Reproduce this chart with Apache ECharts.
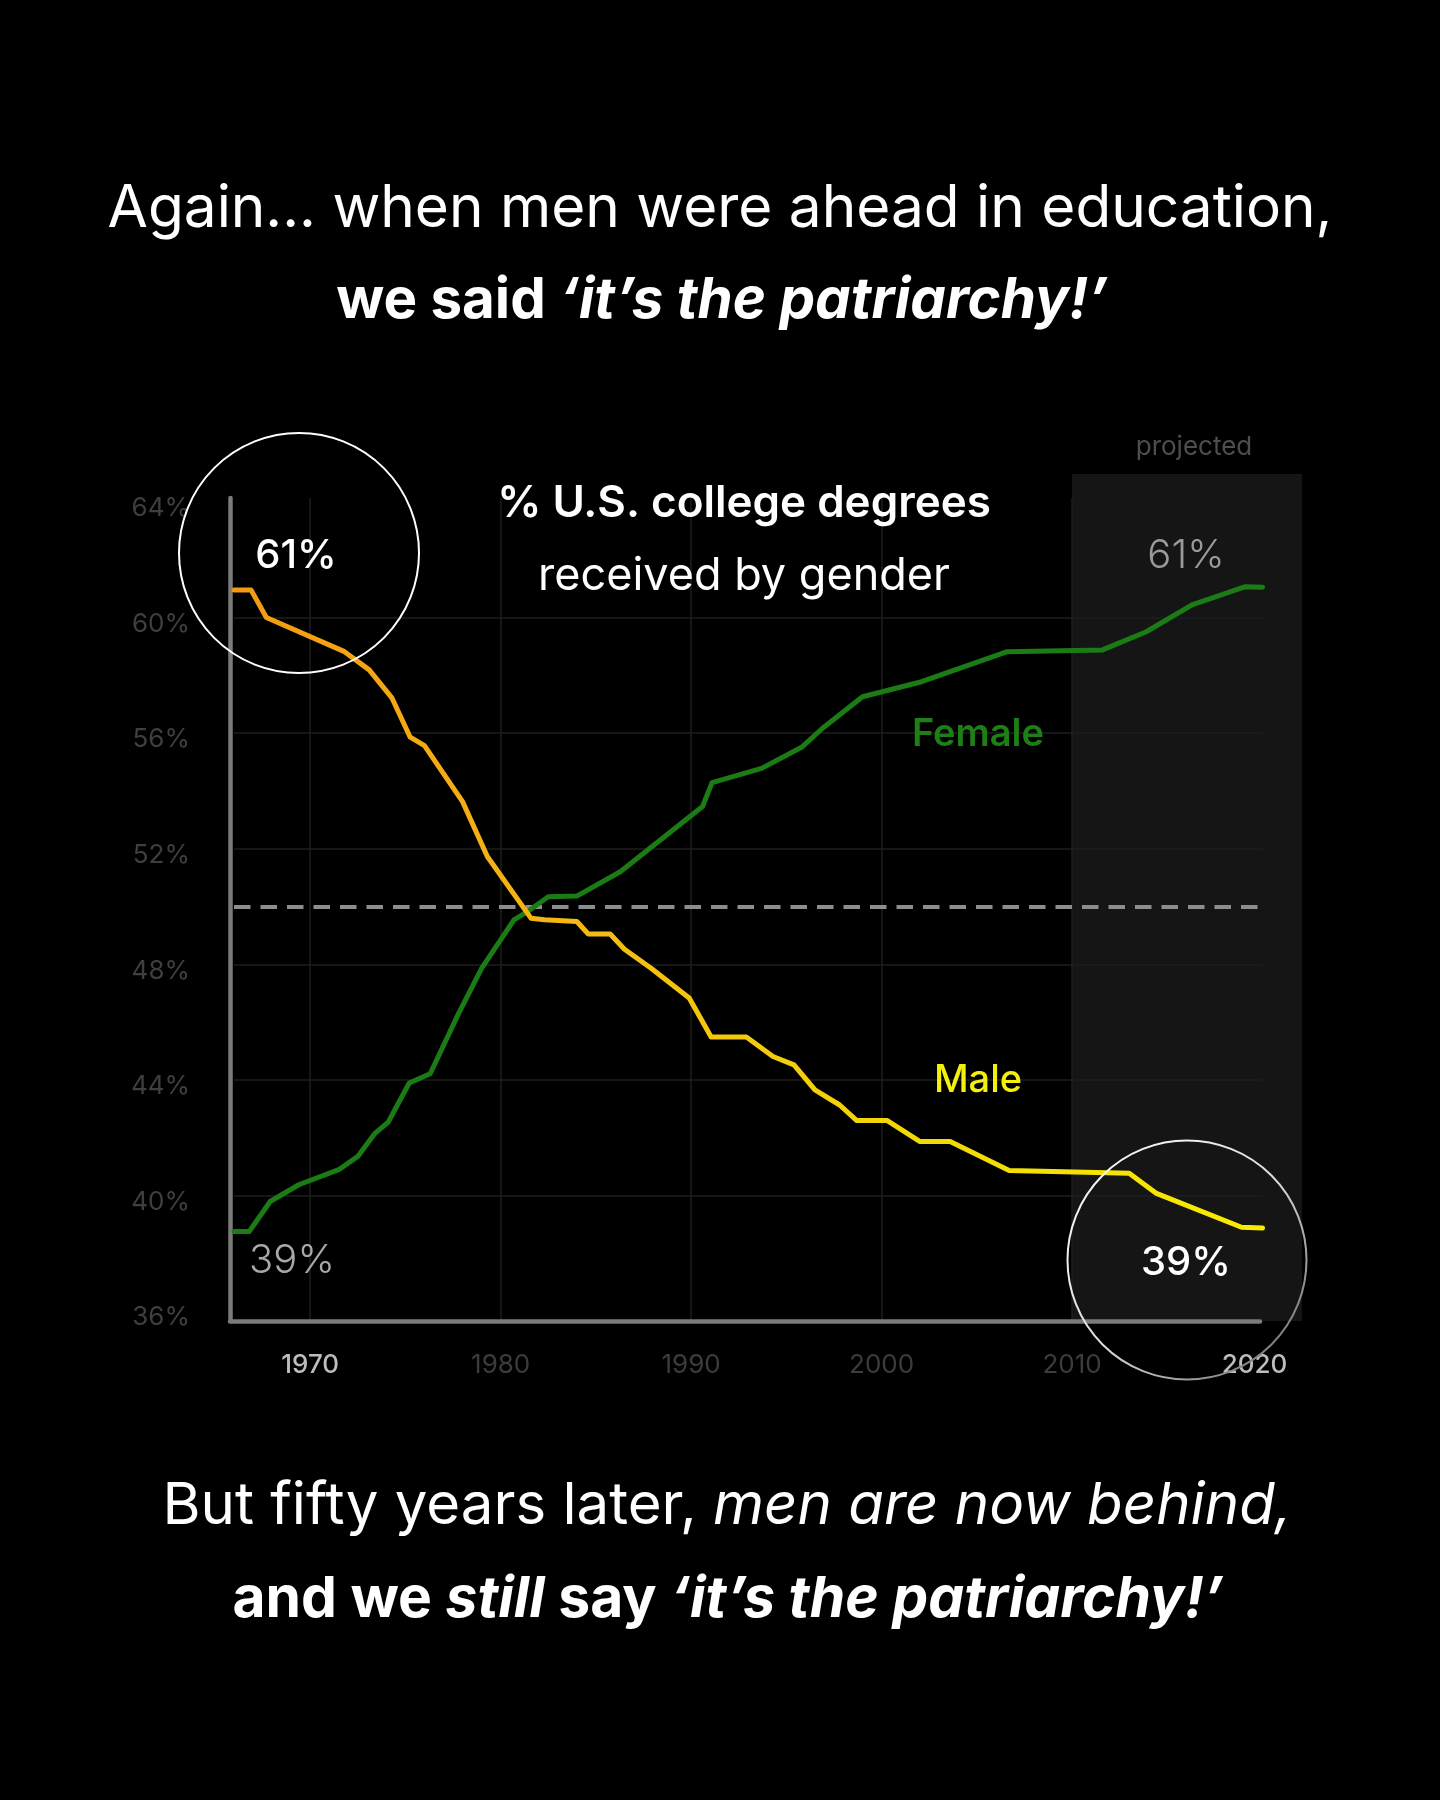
<!DOCTYPE html>
<html>
<head>
<meta charset="utf-8">
<script src="https://cdn.jsdelivr.net/npm/echarts@6/dist/echarts.min.js"></script>
<style>
html,body{margin:0;padding:0;background:#000;}
#chart{width:1440px;height:1800px;}
</style>
</head>
<body>
<div id="chart"></div>
<script>
// ---- data (share of U.S. college degrees, %) ----
const femaleYears = [1966, 1966.8, 1967.9, 1969.4, 1971.5, 1972.5, 1973.4, 1974.1, 1975.2, 1976.3, 1977.8, 1979.0, 1980.7, 1981.4, 1982.5, 1984.0, 1986.3, 1990.6, 1991.1, 1993.7, 1995.8, 1996.9, 1999.0, 2002.1, 2006.6, 2011.6, 2013.9, 2016.3, 2019.1, 2020];
const femaleShare = [38.75, 38.75, 39.79, 40.37, 40.89, 41.35, 42.15, 42.54, 43.89, 44.21, 46.31, 47.86, 49.54, 49.82, 50.34, 50.36, 51.21, 53.46, 54.29, 54.78, 55.51, 56.17, 57.26, 57.78, 58.82, 58.88, 59.51, 60.44, 61.07, 61.05];
const maleYears = [1966, 1966.9, 1967.7, 1971.8, 1973.1, 1974.3, 1975.25, 1976.0, 1978.0, 1979.3, 1981.6, 1982.3, 1984.0, 1984.6, 1985.75, 1986.5, 1987.9, 1989.9, 1991.05, 1992.9, 1994.3, 1995.4, 1996.5, 1997.8, 1998.7, 2000.3, 2002.0, 2003.6, 2006.7, 2013.0, 2014.4, 2018.9, 2020];
const maleShare = [60.95, 60.95, 60.0, 58.82, 58.19, 57.21, 55.86, 55.57, 53.63, 51.73, 49.59, 49.54, 49.48, 49.05, 49.05, 48.52, 47.86, 46.83, 45.48, 45.48, 44.81, 44.52, 43.65, 43.13, 42.59, 42.59, 41.87, 41.87, 40.86, 40.77, 40.08, 38.90, 38.87];
const parityLine = 50;
const brightYears = [1970, 2020];
const yearRange = [1966, 2020];
const shareRange = [36, 64];
const shareStep = 4;

const headline1 = 'Again... when men were ahead in education,';
const headline2a = 'we said ';
const headline2b = '‘it’s the patriarchy!’';
const footer1a = 'But fifty years later, ';
const footer1b = 'men are now behind,';
const footer2 = ['and we ', 'still', ' say ', '‘it’s the patriarchy!’'];
const chartTitle = '% U.S. college degrees';
const chartSubtitle = 'received by gender';

// ---- chart ----
const FONT = 'Inter, "Noto Sans", sans-serif';
const chart = echarts.init(document.getElementById('chart'), null, {renderer: 'canvas'});

const femaleData = femaleYears.map((y, i) => [y, femaleShare[i]]);
const maleData = maleYears.map((y, i) => [y, maleShare[i]]);

function txt(x, y, text, rich, extra) {
  return Object.assign({
    type: 'text', x: x, y: y, z: 50,
    style: {text: text, rich: rich, align: 'center', verticalAlign: 'middle'}
  }, extra || {});
}

function headRich(size) {
  return {
    r: {fontFamily: FONT, fontSize: size, fontWeight: 400, fill: '#ffffff'},
    i: {fontFamily: FONT, fontSize: size, fontWeight: 400, fontStyle: 'italic', fill: '#ffffff'},
    b: {fontFamily: FONT, fontSize: size, fontWeight: 700, fill: '#ffffff'},
    bi: {fontFamily: FONT, fontSize: size, fontWeight: 700, fontStyle: 'italic', fill: '#ffffff'}
  };
}

const option = {
  backgroundColor: '#000000',
  animation: false,
  grid: [
    {left: 234, top: 502, width: 1028.5, height: 809, containLabel: false},
    {left: 230, top: 498, width: 1030, height: 823, containLabel: false},
    {left: 1072, top: 474, width: 230, height: 847, show: true, backgroundColor: '#151515', borderWidth: 0}
  ],
  xAxis: [
    {
      type: 'value', gridIndex: 0, min: yearRange[0], max: yearRange[1],
      axisLine: {show: false}, axisTick: {show: false}, splitLine: {show: false},
      axisLabel: {
        showMinLabel: false, margin: 41,
        fontFamily: FONT, fontSize: 26,
        formatter: function (v) {
          if (v === brightYears[1]) return '{end|' + v + '}';
          if (brightYears.indexOf(v) >= 0) return '{hi|' + v + '}';
          return '{lo|' + v + '}';
        },
        rich: {
          hi: {color: '#bdbdbd', fontFamily: FONT, fontSize: 26, fontWeight: 500},
          end: {color: '#bdbdbd', fontFamily: FONT, fontSize: 26, fontWeight: 500, padding: [0, 16, 0, 0]},
          lo: {color: '#3c3c3c', fontFamily: FONT, fontSize: 26, fontWeight: 400}
        }
      }
    },
    {
      type: 'value', gridIndex: 1, min: 1965.8, max: 2019.87,
      axisLine: {show: true, onZero: false, lineStyle: {color: '#7b7b7b', width: 4.5}},
      axisTick: {show: false}, axisLabel: {show: false},
      splitLine: {show: true, showMinLine: false, showMaxLine: false, lineStyle: {color: '#1e1e1e', width: 1.5}}
    },
    {type: 'value', gridIndex: 2, show: false}
  ],
  yAxis: [
    {
      type: 'value', gridIndex: 0, min: shareRange[0], max: shareRange[1], interval: shareStep,
      axisLine: {show: false}, axisTick: {show: false},
      splitLine: {show: true, showMinLine: false, showMaxLine: false, lineStyle: {color: '#1e1e1e', width: 1.5}},
      axisLabel: {
        margin: 44,
        formatter: function (v) { return '{p|' + v + '%}'; },
        rich: {p: {color: '#3f3f3f', fontFamily: FONT, fontSize: 26, padding: [13, 0, 0, 0]}}
      }
    },
    {
      type: 'value', gridIndex: 1, min: 0, max: 1,
      axisLine: {show: true, lineStyle: {color: '#7b7b7b', width: 4.5}},
      axisTick: {show: false}, axisLabel: {show: false}, splitLine: {show: false}
    },
    {type: 'value', gridIndex: 2, show: false}
  ],
  series: [
    {
      name: 'Female', type: 'line', xAxisIndex: 0, yAxisIndex: 0,
      data: femaleData, showSymbol: false, smooth: false, z: 5,
      lineStyle: {color: '#1b7c15', width: 5, cap: 'round', join: 'round'},
      markLine: {
        silent: true, symbol: ['none', 'none'], label: {show: false},
        lineStyle: {color: '#8d8d8d', width: 4, type: [16.5, 10]},
        data: [{yAxis: parityLine}], z: 3
      }
    },
    {
      name: 'Male', type: 'line', xAxisIndex: 0, yAxisIndex: 0,
      data: maleData, showSymbol: false, smooth: false, z: 6,
      lineStyle: {
        width: 5, cap: 'round', join: 'round',
        color: new echarts.graphic.LinearGradient(0, 0, 1, 0, [
          {offset: 0, color: '#f29a12'},
          {offset: 0.25, color: '#f5b014'},
          {offset: 0.45, color: '#f4c60c'},
          {offset: 0.65, color: '#f2d806'},
          {offset: 1, color: '#f8ec00'}
        ])
      }
    }
  ],
  graphic: [
    txt(720, 209, '{r|' + headline1 + '}', headRich(58.5)),
    txt(722, 301, '{b|' + headline2a + '}{bi|' + headline2b + '}', headRich(56.5)),
    txt(727, 1507, '{r|' + footer1a + '}{i|' + footer1b + '}', headRich(58.2)),
    txt(728, 1600, '{b|' + footer2[0] + '}{bi|' + footer2[1] + '}{b|' + footer2[2] + '}{bi|' + footer2[3] + '}', headRich(57)),
    txt(744, 504, '{t|' + chartTitle + '}', {t: {fontFamily: FONT, fontSize: 44, fontWeight: 600, fill: '#ffffff'}}),
    txt(744, 576, '{t|' + chartSubtitle + '}', {t: {fontFamily: FONT, fontSize: 45, fontWeight: 400, fill: '#ffffff'}}),
    txt(1194, 447, '{t|projected}', {t: {fontFamily: FONT, fontSize: 26, fontWeight: 400, fill: '#4e4e4e'}}),
    txt(978, 735, '{t|Female}', {t: {fontFamily: FONT, fontSize: 38, fontWeight: 600, fill: '#1d7f16'}}),
    txt(978, 1081, '{t|Male}', {t: {fontFamily: FONT, fontSize: 38, fontWeight: 500, fill: '#f5ef0c'}}),
    txt(296, 556, '{t|61%}', {t: {fontFamily: FONT, fontSize: 40, fontWeight: 500, fill: '#ffffff'}}),
    txt(1186, 556, '{t|61%}', {t: {fontFamily: FONT, fontSize: 40, fontWeight: 300, fill: '#9a9a9a'}}),
    txt(292, 1261, '{t|39%}', {t: {fontFamily: FONT, fontSize: 40, fontWeight: 300, fill: '#a8a8a8'}}),
    txt(1186, 1263, '{t|39%}', {t: {fontFamily: FONT, fontSize: 40, fontWeight: 500, fill: '#ffffff'}}),
    {
      type: 'circle', z: 40, silent: true,
      shape: {cx: 299, cy: 553, r: 120},
      style: {fill: 'none', stroke: '#ffffff', lineWidth: 2}
    },
    {
      type: 'circle', z: 40, silent: true,
      shape: {cx: 1187, cy: 1260, r: 119.5},
      style: {
        fill: 'none', lineWidth: 2,
        stroke: new echarts.graphic.LinearGradient(0, 0, 1, 1, [
          {offset: 0, color: '#ffffff'},
          {offset: 0.5, color: '#dddddd'},
          {offset: 1, color: '#5a5a5a'}
        ])
      }
    }
  ]
};

chart.setOption(option);
</script>
</body>
</html>
